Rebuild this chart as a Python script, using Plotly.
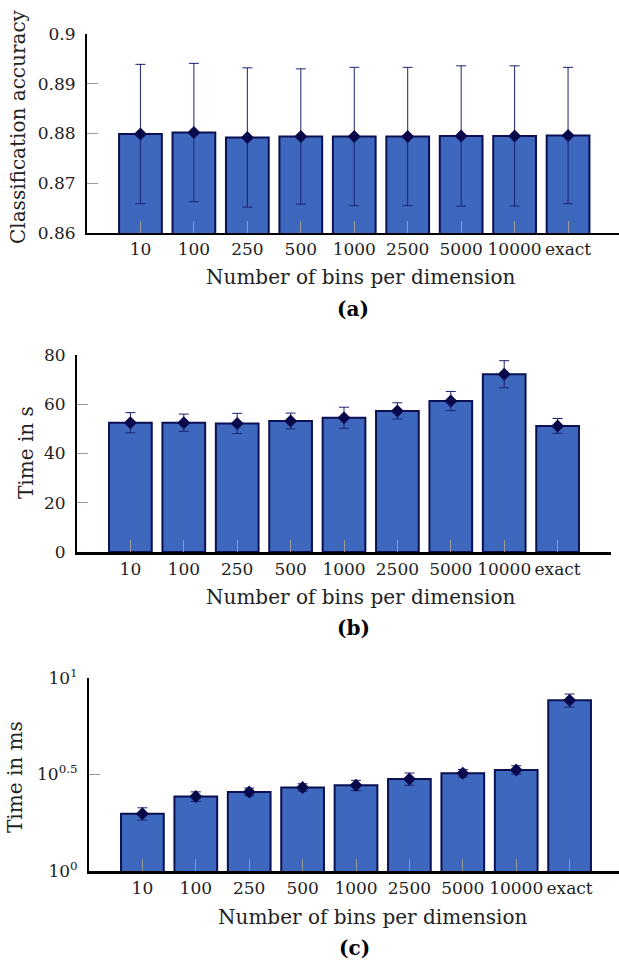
import plotly.graph_objects as go

# Number of bins per dimension (last entry: exact computation)
bins = ["10", "100", "250", "500", "1000", "2500", "5000", "10000", "exact"]

# (a) classification accuracy, mean and standard deviation
acc_mean = [0.8799, 0.8802, 0.8792, 0.8794, 0.8794, 0.8794, 0.8795, 0.8795, 0.8796]
acc_std = [0.0140, 0.0139, 0.0140, 0.0136, 0.0139, 0.0139, 0.0141, 0.0141, 0.0137]

# (b) training time in seconds
time_s = [52.5, 52.5, 52.2, 53.2, 54.5, 57.3, 61.3, 72.2, 51.2]
time_s_std = [4.1, 3.5, 4.1, 3.2, 4.3, 3.3, 3.9, 5.5, 3.0]

# (c) prediction time in milliseconds
time_ms = [1.98, 2.43, 2.57, 2.71, 2.78, 3.00, 3.21, 3.34, 7.66]
time_ms_std = [0.145, 0.14, 0.12, 0.12, 0.17, 0.22, 0.15, 0.17, 0.60]

W, H = 619, 961
FONT = "DejaVu Serif"
BAR_FILL = "#3e68bd"
BAR_EDGE = "#0b1052"
ERR_COL = "#1c2270"
MARK_COL = "#08084a"


def fx(px):
    return px / W


def fy(py):
    return 1 - py / H


pos = list(range(len(bins)))

fig = go.Figure()

panels = [
    # values, std, x-axis id, y-axis id
    (acc_mean, acc_std, "x", "y"),
    (time_s, time_s_std, "x2", "y2"),
    (time_ms, time_ms_std, "x3", "y3"),
]

for vals, std, xa, ya in panels:
    fig.add_trace(go.Bar(
        x=pos, y=vals, xaxis=xa, yaxis=ya, width=0.8,
        marker=dict(color=BAR_FILL, line=dict(color=BAR_EDGE, width=2)),
        showlegend=False, hoverinfo="skip",
    ))
    fig.add_trace(go.Scatter(
        x=pos, y=vals, xaxis=xa, yaxis=ya, mode="markers",
        marker=dict(symbol="diamond", size=10, color=MARK_COL),
        error_y=dict(type="data", array=std, visible=True,
                     color=ERR_COL, thickness=1, width=5),
        showlegend=False, cliponaxis=False,
    ))

tickfont = dict(family=FONT, size=17, color="#222222")

xcommon = dict(
    tickmode="array", tickvals=pos, ticktext=bins,
    ticks="inside", ticklen=12, tickwidth=1, tickcolor="#9a9a9a",
    showline=True, linecolor="black", showgrid=False, zeroline=False,
    tickfont=tickfont, ticklabelstandoff=0, fixedrange=True,
    automargin=False,
)
ycommon = dict(
    ticks="inside", ticklen=11, tickwidth=1, tickcolor="#9a9a9a",
    showline=True, linecolor="black", linewidth=2, showgrid=False,
    zeroline=False, tickfont=tickfont, ticklabelstandoff=6,
    automargin=False,
)

fig.update_layout(
    template="none",
    width=W, height=H,
    margin=dict(l=0, r=0, t=0, b=0, pad=0),
    paper_bgcolor="white", plot_bgcolor="white",
    bargap=0.2,
    xaxis=dict(xcommon, domain=[fx(87), 1], range=[-1, -1 + 532 / 53.45],
               anchor="y", linewidth=2),
    yaxis=dict(ycommon, domain=[fy(233), fy(34)], range=[0.86, 0.9],
               tickvals=[0.86, 0.87, 0.88, 0.89, 0.9],
               ticktext=["0.86", "0.87", "0.88", "0.89", "0.9"], anchor="x"),
    xaxis2=dict(xcommon, domain=[fx(77), fx(611)], range=[-1, 9],
                anchor="y2", linewidth=3),
    yaxis2=dict(ycommon, domain=[fy(552), fy(355)], range=[0, 80],
                tickvals=[0, 20, 40, 60, 80], anchor="x2"),
    xaxis3=dict(xcommon, domain=[fx(89), 1], range=[-1, -1 + 530 / 53.4],
                anchor="y3", linewidth=3),
    yaxis3=dict(ycommon, type="log", domain=[fy(871), fy(678)], range=[0, 1],
                tickvals=[1, 10 ** 0.5, 10],
                ticktext=["10<sup>0</sup>", "10<sup>0.5</sup>", "10<sup>1</sup>"],
                anchor="x3"),
)

labfont = dict(family=FONT, size=20, color="#222222")
boldfont = dict(family=FONT, size=20, color="black")

annotations = [
    # axis titles
    dict(text="Classification accuracy", x=fx(18), y=fy(127), textangle=-90, font=labfont),
    dict(text="Time in s", x=fx(26), y=fy(453), textangle=-90, font=labfont),
    dict(text="Time in ms", x=fx(15), y=fy(777), textangle=-90, font=labfont),
    dict(text="Number of bins per dimension", x=fx(361), y=fy(277), font=labfont),
    dict(text="Number of bins per dimension", x=fx(361), y=fy(597), font=labfont),
    dict(text="Number of bins per dimension", x=fx(373), y=fy(917), font=labfont),
    # panel labels
    dict(text="<b>(a)</b>", x=fx(353), y=fy(309), font=boldfont),
    dict(text="<b>(b)</b>", x=fx(353), y=fy(628), font=boldfont),
    dict(text="<b>(c)</b>", x=fx(354), y=fy(948), font=boldfont),
]
for a in annotations:
    a.update(xref="paper", yref="paper", showarrow=False,
             xanchor="center", yanchor="middle")
fig.update_layout(annotations=annotations)

# page body without default margins so the figure fills the window exactly
fig.write_html(
    "out.html",
    post_script="document.body.style.margin='0';document.body.style.overflow='hidden';",
)
